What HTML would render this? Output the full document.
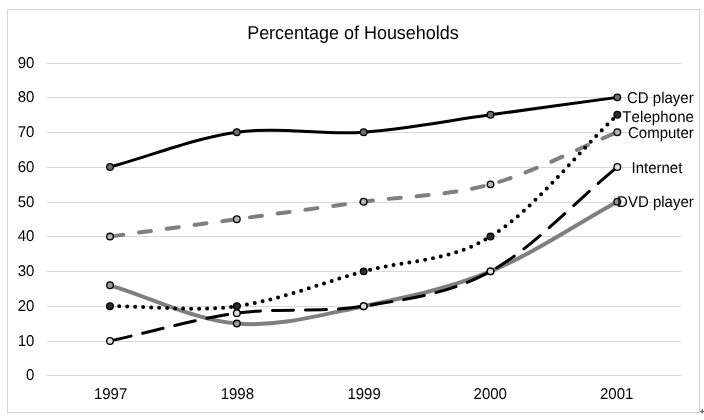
<!DOCTYPE html>
<html><head><meta charset="utf-8"><title>Percentage of Households</title>
<style>
html,body{margin:0;padding:0;background:#fff;}
body{width:704px;height:420px;overflow:hidden;position:relative;font-family:"Liberation Sans",sans-serif;}
svg{position:absolute;left:0;top:0;display:block;will-change:transform;}
text{font-family:"Liberation Sans",sans-serif;font-size:15px;fill:#000;text-rendering:geometricPrecision;font-kerning:none;}
.title{font-size:18px;}
</style></head><body>
<svg width="704" height="420" viewBox="0 0 704 420">
<rect x="0" y="0" width="704" height="420" fill="#fff"/>
<rect x="7.5" y="9.5" width="692" height="403" fill="#fff" stroke="#d4d4d4" stroke-width="1"/>
<path d="M700 411.4 L702.9 409 L702.9 410.8 L704 410.8 L704 412 L702.9 412 L702.9 413.9 Z" fill="#666"/>
<line x1="47.00" y1="375.50" x2="681.00" y2="375.50" stroke="#d9d9d9" stroke-width="1"/>
<line x1="47.00" y1="341.50" x2="681.00" y2="341.50" stroke="#d9d9d9" stroke-width="1"/>
<line x1="47.00" y1="306.50" x2="681.00" y2="306.50" stroke="#d9d9d9" stroke-width="1"/>
<line x1="47.00" y1="271.50" x2="681.00" y2="271.50" stroke="#d9d9d9" stroke-width="1"/>
<line x1="47.00" y1="236.50" x2="681.00" y2="236.50" stroke="#d9d9d9" stroke-width="1"/>
<line x1="47.00" y1="202.50" x2="681.00" y2="202.50" stroke="#d9d9d9" stroke-width="1"/>
<line x1="47.00" y1="167.50" x2="681.00" y2="167.50" stroke="#d9d9d9" stroke-width="1"/>
<line x1="47.00" y1="132.50" x2="681.00" y2="132.50" stroke="#d9d9d9" stroke-width="1"/>
<line x1="47.00" y1="97.50" x2="681.00" y2="97.50" stroke="#d9d9d9" stroke-width="1"/>
<line x1="47.00" y1="63.50" x2="681.00" y2="63.50" stroke="#d9d9d9" stroke-width="1"/>
<path d="M110.00 285.29 C152.28 298.05 194.55 320.09 236.83 323.57 C279.11 327.05 321.38 314.87 363.66 306.17 C405.94 297.47 448.21 288.77 490.49 271.37 C532.77 253.97 575.04 224.97 617.32 201.77" fill="none" stroke="#7f7f7f" stroke-width="4.0" stroke-linecap="round" stroke-linejoin="round"/>
<circle cx="110.00" cy="285.29" r="3.32" fill="#989898" stroke="#000" stroke-width="1.3"/>
<circle cx="236.83" cy="323.57" r="3.32" fill="#989898" stroke="#000" stroke-width="1.3"/>
<circle cx="363.66" cy="306.17" r="3.32" fill="#989898" stroke="#000" stroke-width="1.3"/>
<circle cx="490.49" cy="271.37" r="3.32" fill="#989898" stroke="#000" stroke-width="1.3"/>
<circle cx="617.32" cy="201.77" r="3.32" fill="#989898" stroke="#000" stroke-width="1.3"/>
<path d="M110.00 166.97 C152.28 155.37 194.55 137.97 236.83 132.17 C279.11 126.37 321.38 135.07 363.66 132.17 C405.94 129.27 448.21 120.57 490.49 114.77 C532.77 108.97 575.04 103.17 617.32 97.37" fill="none" stroke="#000" stroke-width="3.0" stroke-linecap="round" stroke-linejoin="round"/>
<circle cx="110.00" cy="166.97" r="3.32" fill="#6e6e6e" stroke="#000" stroke-width="1.3"/>
<circle cx="236.83" cy="132.17" r="3.32" fill="#6e6e6e" stroke="#000" stroke-width="1.3"/>
<circle cx="363.66" cy="132.17" r="3.32" fill="#6e6e6e" stroke="#000" stroke-width="1.3"/>
<circle cx="490.49" cy="114.77" r="3.32" fill="#6e6e6e" stroke="#000" stroke-width="1.3"/>
<circle cx="617.32" cy="97.37" r="3.32" fill="#6e6e6e" stroke="#000" stroke-width="1.3"/>
<path d="M110.00 236.57 C152.28 230.77 194.55 224.97 236.83 219.17 C279.11 213.37 321.38 207.57 363.66 201.77 C405.94 195.97 448.21 195.97 490.49 184.37 C532.77 172.77 575.04 149.57 617.32 132.17" fill="none" stroke="#7f7f7f" stroke-width="4.0" stroke-linecap="round" stroke-linejoin="round" stroke-dasharray="12 16" stroke-dashoffset="-1.3"/>
<circle cx="110.00" cy="236.57" r="3.32" fill="#b3b3b3" stroke="#000" stroke-width="1.3"/>
<circle cx="236.83" cy="219.17" r="3.32" fill="#b3b3b3" stroke="#000" stroke-width="1.3"/>
<circle cx="363.66" cy="201.77" r="3.32" fill="#b3b3b3" stroke="#000" stroke-width="1.3"/>
<circle cx="490.49" cy="184.37" r="3.32" fill="#b3b3b3" stroke="#000" stroke-width="1.3"/>
<circle cx="617.32" cy="132.17" r="3.32" fill="#b3b3b3" stroke="#000" stroke-width="1.3"/>
<path d="M110.00 306.17 C152.28 306.17 194.55 311.97 236.83 306.17 C279.11 300.37 321.38 282.97 363.66 271.37 C405.94 259.77 448.21 262.67 490.49 236.57 C532.77 210.47 575.04 155.37 617.32 114.77" fill="none" stroke="#000" stroke-width="4.0" stroke-linecap="round" stroke-linejoin="round" stroke-dasharray="0 8" stroke-dashoffset="-1.2"/>
<circle cx="110.00" cy="306.17" r="3.32" fill="#2b2b2b" stroke="#000" stroke-width="1.3"/>
<circle cx="236.83" cy="306.17" r="3.32" fill="#2b2b2b" stroke="#000" stroke-width="1.3"/>
<circle cx="363.66" cy="271.37" r="3.32" fill="#2b2b2b" stroke="#000" stroke-width="1.3"/>
<circle cx="490.49" cy="236.57" r="3.32" fill="#2b2b2b" stroke="#000" stroke-width="1.3"/>
<circle cx="617.32" cy="114.77" r="3.32" fill="#2b2b2b" stroke="#000" stroke-width="1.3"/>
<path d="M110.00 340.97 C152.28 331.69 194.55 318.93 236.83 313.13 C279.11 307.33 321.38 313.13 363.66 306.17 C405.94 299.21 448.21 294.57 490.49 271.37 C532.77 248.17 575.04 201.77 617.32 166.97" fill="none" stroke="#000" stroke-width="3.0" stroke-linecap="round" stroke-linejoin="round" stroke-dasharray="21 12" stroke-dashoffset="-0.6"/>
<circle cx="110.00" cy="340.97" r="3.32" fill="#dcdcdc" stroke="#000" stroke-width="1.3"/>
<circle cx="236.83" cy="313.13" r="3.32" fill="#dcdcdc" stroke="#000" stroke-width="1.3"/>
<circle cx="363.66" cy="306.17" r="3.32" fill="#dcdcdc" stroke="#000" stroke-width="1.3"/>
<circle cx="490.49" cy="271.37" r="3.32" fill="#dcdcdc" stroke="#000" stroke-width="1.3"/>
<circle cx="617.32" cy="166.97" r="3.32" fill="#dcdcdc" stroke="#000" stroke-width="1.3"/>
<g transform="scale(1,1.04)" opacity="0.999">
<text textLength="211.6" lengthAdjust="spacing" x="352.95" y="37.60" text-anchor="middle" class="title">Percentage of Households</text>
<text x="34.40" y="365.19" text-anchor="end">0</text>
<text x="34.40" y="332.50" text-anchor="end">10</text>
<text x="34.40" y="298.85" text-anchor="end">20</text>
<text x="34.40" y="265.19" text-anchor="end">30</text>
<text x="34.40" y="231.54" text-anchor="end">40</text>
<text x="34.40" y="198.85" text-anchor="end">50</text>
<text x="34.40" y="165.19" text-anchor="end">60</text>
<text x="34.40" y="131.54" text-anchor="end">70</text>
<text x="34.40" y="97.88" text-anchor="end">80</text>
<text x="34.40" y="65.19" text-anchor="end">90</text>
<text x="110.60" y="383.94" text-anchor="middle">1997</text>
<text x="237.35" y="383.94" text-anchor="middle">1998</text>
<text x="364.10" y="383.94" text-anchor="middle">1999</text>
<text x="490.25" y="383.94" text-anchor="middle">2000</text>
<text x="616.70" y="383.94" text-anchor="middle">2001</text>
<text x="627.00" y="98.65">CD player</text>
<text textLength="71.6" lengthAdjust="spacing" x="622.30" y="116.83">Telephone</text>
<text x="628.00" y="132.69">Computer</text>
<text x="631.50" y="166.15">Internet</text>
<text x="617.10" y="198.75">DVD player</text>
</g>
</svg>
</body></html>
